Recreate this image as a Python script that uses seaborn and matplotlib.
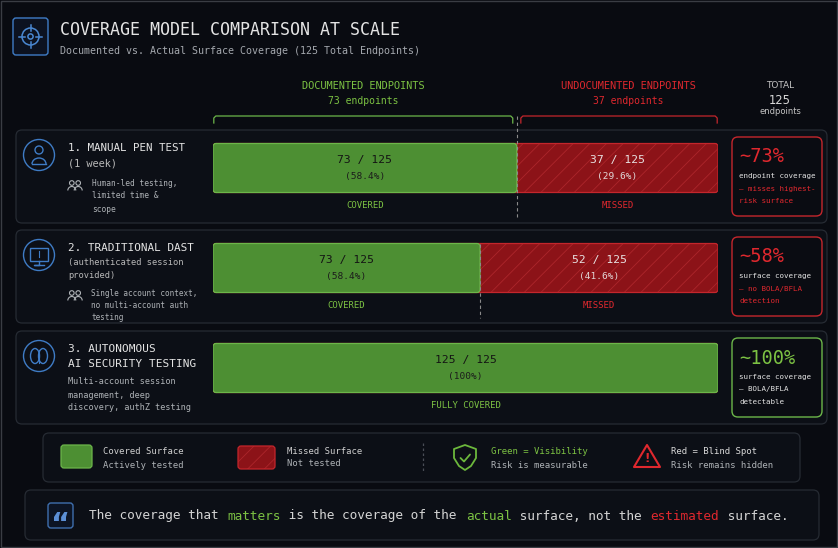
import matplotlib
matplotlib.use('Agg')
import matplotlib.pyplot as plt
from matplotlib.patches import FancyBboxPatch, Circle, Arc, Ellipse, Rectangle, Polygon
import seaborn as sns

# ---- data ----
methods = ['1. MANUAL PEN TEST', '2. TRADITIONAL DAST', '3. AUTONOMOUS AI SECURITY TESTING']
total = 125
covered = [73, 73, 125]
missed = [37, 52, 0]
# bar lengths as drawn in the reference (endpoint units out of 125)
bar_covered = [75.2, 66.1, 125]
bar_missed = [49.8, 58.9, 0]
claims = ['~73%', '~58%', '~100%']
documented = 73
undocumented = 37

BG = '#090b11'
CARD = '#0c0f16'
CARD_EDGE = '#262b33'
GREEN = '#4d8f33'
GREEN_EDGE = '#6cb64a'
GREEN_TXT = '#7cc243'
RED = '#8c1318'
RED_EDGE = '#c4262c'
RED_TXT = '#e0282e'
BLUE = '#3f7cc6'
WHITE = '#e4e4e4'
GRAY = '#aeb2b6'

plt.rcParams['font.family'] = ['DejaVu Sans Mono', 'DejaVu Sans']
plt.rcParams['hatch.linewidth'] = 0.6

fig = plt.figure(figsize=(8.38, 5.48), dpi=100, facecolor=BG)
bg = fig.add_axes([0, 0, 1, 1])
bg.set_xlim(0, 838)
bg.set_ylim(548, 0)
bg.axis('off')
bg.set_facecolor(BG)


def txt(x, y, s, size, color, ha='left', **kw):
    bg.text(x, y, s, fontsize=size, color=color, ha=ha, va='center', **kw)


def box(x, y, w, h, ec=CARD_EDGE, fc=CARD, r=6, lw=0.9, **kw):
    bg.add_patch(FancyBboxPatch((x, y), w, h, boxstyle=f'round,pad=0,rounding_size={r}',
                                fc=fc, ec=ec, lw=lw, **kw))


# outer frame
bg.add_patch(Rectangle((1, 1), 836, 546, fc='none', ec='#3a3d44', lw=1))

# header icon
box(13, 18, 35, 37, ec=BLUE, fc='#0c1220', r=3, lw=1)
bg.add_patch(Circle((30.5, 36.5), 8.5, fc='none', ec='#4a88d2', lw=1.1))
bg.add_patch(Circle((30.5, 36.5), 2.6, fc='none', ec='#4a88d2', lw=1.1))
for dx, dy in [(0, -1), (0, 1), (-1, 0), (1, 0)]:
    bg.plot([30.5 + dx * 5.5, 30.5 + dx * 11.5], [36.5 + dy * 5.5, 36.5 + dy * 11.5], color='#4a88d2', lw=1.1)

txt(60, 30, 'COVERAGE MODEL COMPARISON AT SCALE', 12, WHITE)
txt(60, 51, 'Documented vs. Actual Surface Coverage (125 Total Endpoints)', 7.2, '#a4a8ae')

# column headers
txt(363, 86, 'DOCUMENTED ENDPOINTS', 7.4, GREEN_TXT, ha='center')
txt(363, 101, f'{documented} endpoints', 7.0, GREEN_TXT, ha='center')
txt(628, 86, 'UNDOCUMENTED ENDPOINTS', 7.4, RED_TXT, ha='center')
txt(628, 101, f'{undocumented} endpoints', 7.0, RED_TXT, ha='center')
txt(780, 85, 'TOTAL', 6.5, '#c4c4c4', ha='center', family='DejaVu Sans')
txt(780, 100, f'{total}', 8.3, '#d8d8d8', ha='center', family='DejaVu Sans')
txt(780, 112, 'endpoints', 6.0, '#c4c4c4', ha='center', family='DejaVu Sans')

# row cards
card_tops = [130, 230, 331]
for top in card_tops:
    box(16, top, 811, 93)


def people_icon(cx, cy, color=GRAY):
    for dx in (-3.2, 3.2):
        bg.add_patch(Circle((cx + dx, cy - 3), 2.3, fc='none', ec=color, lw=0.8))
        bg.add_patch(Arc((cx + dx, cy + 4.5), 8, 8, theta1=180, theta2=360, ec=color, lw=0.8))


# left text blocks
titles = [
    [('1. MANUAL PEN TEST', 148, WHITE, 7.8), ('(1 week)', 163, '#b8b8b8', 7.4)],
    [('2. TRADITIONAL DAST', 248, WHITE, 7.9), ('(authenticated session', 262, '#b8b8b8', 6.3),
     ('provided)', 275, '#b8b8b8', 6.3)],
    [('3. AUTONOMOUS', 349, WHITE, 8.0), ('AI SECURITY TESTING', 364, WHITE, 8.0)],
]
descs = [
    (92, [('Human-led testing,', 184), ('limited time &', 196), ('scope', 209)], 5.7),
    (91, [('Single account context,', 293), ('no multi-account auth', 305), ('testing', 317)], 5.5),
    (68, [('Multi-account session', 382), ('management, deep', 396), ('discovery, authZ testing', 408)], 6.1),
]
for lines in titles:
    for s, y, c, size in lines:
        txt(68, y, s, size, c)
for x0, lines, size in descs:
    for s, y in lines:
        txt(x0, y, s, size, GRAY)
people_icon(75, 186)
people_icon(75, 296)

# row icons
for cy in [155, 255, 356]:
    bg.add_patch(Circle((39, cy), 15.5, fc='none', ec=BLUE, lw=1))
bg.add_patch(Circle((39, 150), 4, fc='none', ec=BLUE, lw=1))
bg.add_patch(Arc((39, 164), 14, 12, theta1=180, theta2=360, ec=BLUE, lw=1))
bg.plot([32, 46], [164, 164], color=BLUE, lw=1)
bg.add_patch(Rectangle((30, 248), 18, 13, fc='none', ec=BLUE, lw=1))
bg.plot([39, 39, 34, 44], [261, 265, 265, 265], color=BLUE, lw=1)
bg.plot([39, 39], [251, 257], color=BLUE, lw=0.8)
bg.add_patch(Ellipse((35, 356), 9, 15, fc='none', ec=BLUE, lw=1))
bg.add_patch(Ellipse((43, 356), 9, 15, fc='none', ec=BLUE, lw=1))
bg.plot([39, 39], [350, 363], color=BLUE, lw=0.8)

# right summary boxes
side = [
    (137, RED_EDGE, claims[0], RED_TXT,
     [('endpoint coverage', WHITE), ('\u2013 misses highest-', RED_TXT), ('risk surface', RED_TXT)]),
    (237, RED_EDGE, claims[1], RED_TXT,
     [('surface coverage', WHITE), ('\u2013 no BOLA/BFLA', RED_TXT), ('detection', RED_TXT)]),
    (338, GREEN_EDGE, claims[2], GREEN_TXT,
     [('surface coverage', WHITE), ('\u2013 BOLA/BFLA', WHITE), ('detectable', WHITE)]),
]
for top, ec, big, bc, lines in side:
    box(732, top, 90, 79, ec=ec, fc='#0a0c12', r=6, lw=1)
    txt(739, top + 20, big, 13.5, bc)
    for k, (s, c) in enumerate(lines):
        txt(739, top + 39 + 12.5 * k, s, 5.4, c)

# ---- bars via seaborn ----
ax = fig.add_axes([213 / 838, 1 - 418 / 548, 505 / 838, 300 / 548])
ax.patch.set_alpha(0)
bar_total = [c + m for c, m in zip(bar_covered, bar_missed)]
sns.barplot(x=bar_total, y=methods, orient='h', color=RED, saturation=1, width=0.49,
            errorbar=None, ax=ax, hatch='//', edgecolor='#ad262b', linewidth=0)
sns.barplot(x=bar_covered, y=methods, orient='h', color=GREEN, saturation=1, width=0.49,
            errorbar=None, ax=ax, linewidth=0)
ax.set_xlim(0, total)
ax.set_ylim(2.5, -0.5)
ax.axis('off')

# rounded corners: swap each bar for a rounded patch
asp = (505 / total) / 100
for k, p in enumerate(list(ax.patches)):
    x, y, w, h = p.get_x(), p.get_y(), p.get_width(), p.get_height()
    is_red = k < len(methods)
    p.remove()
    style = f'round,pad=0,rounding_size={3 / (505 / total)}'
    if is_red:
        ax.add_patch(FancyBboxPatch((x, y), w, h, boxstyle=style, mutation_aspect=asp,
                                    fc=RED, ec='#ad262b', lw=0, hatch='//'))
        ax.add_patch(FancyBboxPatch((x, y), w, h, boxstyle=style, mutation_aspect=asp,
                                    fc='none', ec=RED_EDGE, lw=0.9))
    else:
        ax.add_patch(FancyBboxPatch((x, y), w, h, boxstyle=style, mutation_aspect=asp,
                                    fc=GREEN, ec=GREEN_EDGE, lw=0.9))

for i in range(len(methods)):
    gx = bar_covered[i] / 2
    ax.text(gx, i - 0.075, f'{covered[i]} / {total}', ha='center', va='center',
            fontsize=8.2, color='#141414')
    ax.text(gx, i + 0.09, f'({100 * covered[i] / total:g}%)', ha='center', va='center',
            fontsize=6.8, color='#1c1c1c')
    ax.text(gx, i + 0.37, 'FULLY COVERED' if missed[i] == 0 else 'COVERED', ha='center',
            va='center', fontsize=6.5, color=GREEN_TXT, clip_on=False)
    if missed[i] > 0:
        rx = bar_covered[i] + bar_missed[i] / 2
        ax.text(rx, i - 0.075, f'{missed[i]} / {total}', ha='center', va='center',
                fontsize=8.2, color='#e8e2e2')
        ax.text(rx, i + 0.09, f'({100 * missed[i] / total:g}%)', ha='center', va='center',
                fontsize=6.8, color='#e0d6d6')
        ax.text(rx, i + 0.37, 'MISSED', ha='center', va='center', fontsize=6.5,
                color=RED_TXT, clip_on=False)

# split markers
ax.plot([bar_covered[0]] * 2, [-0.52, 0.49], ls=(0, (3, 2.5)), color='#8a8a8a', lw=0.8, clip_on=False)
ax.plot([bar_covered[1]] * 2, [0.76, 1.5], ls=(0, (3, 2.5)), color='#8a8a8a', lw=0.8, clip_on=False)

# brackets over the first row
u = 1 / (505 / total)
for x0, x1, c in [(0.2, bar_covered[0] - 1.0, GREEN_EDGE), (bar_covered[0] + 1.0, total - 0.2, RED_EDGE)]:
    ax.plot([x0, x0, x0 + 2 * u, x1 - 2 * u, x1, x1], [-0.45, -0.50, -0.52, -0.52, -0.50, -0.45],
            color=c, lw=0.9, clip_on=False)

# ---- legend panel ----
box(43, 433, 757, 49, r=6)
bg.add_patch(FancyBboxPatch((61, 445), 31, 23, boxstyle='round,pad=0,rounding_size=3',
                            fc=GREEN, ec=GREEN_EDGE, lw=0.9))
bg.add_patch(FancyBboxPatch((238, 446), 37, 23, boxstyle='round,pad=0,rounding_size=3',
                            fc=RED, ec='#ad262b', lw=0, hatch='//'))
bg.add_patch(FancyBboxPatch((238, 446), 37, 23, boxstyle='round,pad=0,rounding_size=3',
                            fc='none', ec=RED_EDGE, lw=0.9))
txt(103, 452, 'Covered Surface', 6.4, '#d0d0d0')
txt(103, 465, 'Actively tested', 6.4, GRAY)
txt(287, 451, 'Missed Surface', 6.4, '#d0d0d0')
txt(287, 464, 'Not tested', 6.4, GRAY)
bg.plot([423, 423], [443, 473], ls=(0, (2, 2)), color='#4a4e56', lw=0.9)
bg.add_patch(Polygon([(465, 445), (476, 449), (476, 458), (471, 466), (465, 470),
                      (459, 466), (454, 458), (454, 449)], closed=True, fc='none',
                     ec='#6cb83c', lw=1.3, joinstyle='round'))
bg.plot([460.5, 464, 470], [458, 461.5, 454.5], color='#6cb83c', lw=1.3, solid_capstyle='round')
txt(491, 452, 'Green = Visibility', 6.5, GREEN_TXT)
txt(491, 465, 'Risk is measurable', 6.5, GRAY)
bg.add_patch(Polygon([(647, 445), (660, 467), (634, 467)], closed=True, fc='none',
                     ec=RED_TXT, lw=1.5, joinstyle='round'))
txt(647, 458, '!', 8.5, RED_TXT, ha='center', weight='bold', family='DejaVu Sans')
txt(671, 452, 'Red = Blind Spot', 6.5, '#d8d8d8')
txt(671, 465, 'Risk remains hidden', 6.5, GRAY)

# ---- quote panel ----
box(25, 490, 794, 50, r=6)
box(48, 503, 25, 25, ec='#3f6fae', fc='#0c1424', r=3, lw=1)
txt(60.5, 525, '\u201c', 21, '#5b8fd6', ha='center', weight='bold', family='DejaVu Sans')

quote = [('The coverage that ', '#d4d4d4'), ('matters', GREEN_TXT),
         (' is the coverage of the ', '#d4d4d4'), ('actual', GREEN_TXT),
         (' surface, not the ', '#d4d4d4'), ('estimated', RED_TXT), (' surface.', '#d4d4d4')]
qsize = 9.2
cw = 0.60205 * qsize * 100 / 72
n = 0
for s, c in quote:
    txt(89 + n * cw, 516, s, qsize, c)
    n += len(s)

fig.savefig('out.png', dpi=100, facecolor=BG)
